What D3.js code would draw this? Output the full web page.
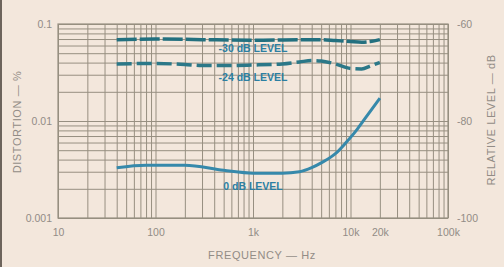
<!DOCTYPE html>
<html>
<head>
<meta charset="utf-8">
<script src="https://cdn.jsdelivr.net/npm/d3@7"></script>
<style>
  html, body { margin: 0; padding: 0; background: #f3e7dc; }
  svg { display: block; font-family: "Liberation Sans", Arial, sans-serif; }
</style>
</head>
<body>
<svg id="chart" width="504" height="267"></svg>
<script>
// frequency axis labels
const freqTicks = [10, 100, 1000, 10000, 20000, 100000];
const freqLabels = ["10", "100", "1k", "10k", "20k", "100k"];

// left axis (distortion %) and right axis (relative level dB)
const distTicks = [0.1, 0.01, 0.001];
const distLabels = ["0.1", "0.01", "0.001"];
const levelTicks = [-60, -80, -100];
const levelLabels = ["-60", "-80", "-100"];

// 0 dB level
const freq0 = [40, 80, 200, 500, 1000, 2000, 3000, 4000, 5000, 7000, 9000, 11700, 13400, 20000];
const dist0 = [0.0033, 0.0035, 0.0035, 0.0031, 0.0029, 0.0029, 0.0030, 0.0033, 0.0037, 0.0046, 0.0060, 0.0082, 0.0099, 0.0172];

// -24 dB level
const freq24 = [40, 100, 200, 300, 500, 1000, 2000, 3000, 4000, 5000, 7000, 10000, 13000, 16000, 20000];
const dist24 = [0.0387, 0.0392, 0.0382, 0.0373, 0.0373, 0.0378, 0.0387, 0.0406, 0.0420, 0.0416, 0.0387, 0.0348, 0.0344, 0.0369, 0.0401];

// -30 dB level
const freq30 = [40, 100, 300, 1000, 3000, 5000, 7000, 10000, 13000, 16000, 20000];
const dist30 = [0.069, 0.070, 0.069, 0.068, 0.069, 0.069, 0.0675, 0.066, 0.065, 0.066, 0.069];

const svg = d3.select("#chart");
const plotL = 58, plotR = 448, plotT = 24, plotB = 218;
const width = plotR - plotL, height = plotB - plotT;

// scanned page edge
svg.append("rect").attr("x", 0).attr("y", 0).attr("width", 2).attr("height", 267).attr("fill", "#6d645c");

const x = d3.scaleLog().domain([10, 100000]).range([plotL, plotR]);
const y = d3.scaleLog().domain([0.001, 0.1]).range([plotB, plotT]);
const yLevel = d3.scaleLinear().domain([-100, -60]).range([plotB, plotT]);

// grid
const gridX = svg.append("g").attr("transform", `translate(0,${plotB})`)
    .call(d3.axisBottom(x).tickSizeInner(-height).tickSizeOuter(0).tickFormat(""));
const gridY = svg.append("g").attr("transform", `translate(${plotL},0)`)
    .call(d3.axisLeft(y).tickSizeInner(-width).tickSizeOuter(0).tickFormat(""));
[gridX, gridY].forEach(g => {
    g.select(".domain").remove();
    g.selectAll("line").attr("stroke", "#978f81").attr("stroke-width", 1);
});
svg.append("rect").attr("x", plotL).attr("y", plotT).attr("width", width).attr("height", height)
    .attr("fill", "none").attr("stroke", "#978f81").attr("stroke-width", 1.2);

// tick labels
const labelColor = "#928c86";
const xAxis = svg.append("g").attr("transform", `translate(0,${plotB})`)
    .call(d3.axisBottom(x).tickValues(freqTicks).tickSize(0).tickPadding(11)
        .tickFormat((d, i) => freqLabels[i]));
const yAxis = svg.append("g").attr("transform", `translate(${plotL},0)`)
    .call(d3.axisLeft(y).tickValues(distTicks).tickSize(0).tickPadding(6)
        .tickFormat((d, i) => distLabels[i]));
const rAxis = svg.append("g").attr("transform", `translate(${plotR},0)`)
    .call(d3.axisRight(yLevel).tickValues(levelTicks).tickSize(0).tickPadding(9)
        .tickFormat((d, i) => levelLabels[i]));
[xAxis, yAxis, rAxis].forEach(g => {
    g.select(".domain").remove();
    g.selectAll("text").attr("fill", labelColor).attr("font-size", 10.5)
        .attr("font-family", "\"Liberation Sans\", Arial, sans-serif");
});

// axis titles
svg.append("text").attr("x", 262).attr("y", 259).attr("text-anchor", "middle")
    .attr("fill", labelColor).attr("font-size", 11).attr("letter-spacing", 0.6)
    .text("FREQUENCY — Hz");
svg.append("text").attr("transform", "translate(21,122) rotate(-90)").attr("text-anchor", "middle")
    .attr("fill", labelColor).attr("font-size", 11).attr("letter-spacing", 0.6)
    .text("DISTORTION — %");
svg.append("text").attr("transform", "translate(495,120) rotate(-90)").attr("text-anchor", "middle")
    .attr("fill", labelColor).attr("font-size", 11).attr("letter-spacing", 0.6)
    .text("RELATIVE LEVEL — dB");

// curves
const line = d3.line().x(d => x(d[0])).y(d => y(d[1])).curve(d3.curveMonotoneX);
const series = [
    {f: freq30, v: dist30, color: "#23707f", w: 3.5, dash: "20,3"},
    {f: freq24, v: dist24, color: "#2b7888", w: 3.5, dash: "15,5"},
    {f: freq0, v: dist0, color: "#3689ab", w: 3, dash: null}
];
series.forEach(s => {
    svg.append("path")
        .datum(d3.zip(s.f, s.v))
        .attr("d", line)
        .attr("fill", "none")
        .attr("stroke", s.color)
        .attr("stroke-width", s.w)
        .attr("stroke-dasharray", s.dash)
        .attr("stroke-linecap", "butt");
});

// curve labels
const curveLabels = [
    {text: "-30 dB LEVEL", f: 1000, v: 0.0555},
    {text: "-24 dB LEVEL", f: 1000, v: 0.0285},
    {text: "0 dB LEVEL", f: 1000, v: 0.0021}
];
curveLabels.forEach(l => {
    svg.append("text").attr("x", x(l.f)).attr("y", y(l.v)).attr("dy", "0.35em")
        .attr("text-anchor", "middle").attr("fill", "#2c7fa2")
        .attr("font-size", 10.5).attr("font-weight", "bold")
        .text(l.text);
});
</script>
</body>
</html>
